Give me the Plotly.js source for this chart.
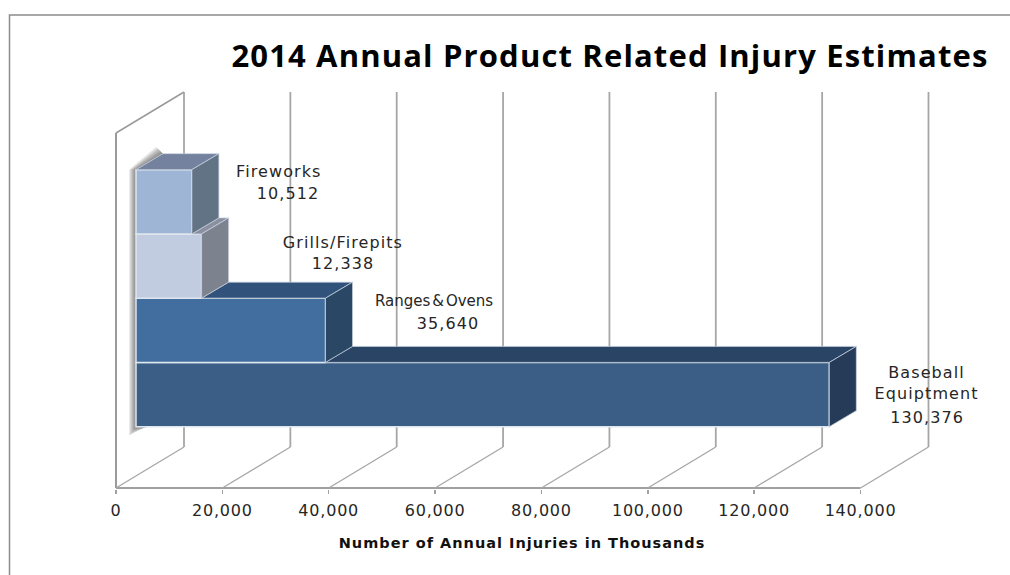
<!DOCTYPE html>
<html>
<head>
<meta charset="utf-8">
<script src="https://cdn.plot.ly/plotly-3.0.1.min.js"></script>
<style>
html,body{margin:0;padding:0;background:#fff}
#chart{width:1010px;height:575px}
#chart .gtitle{letter-spacing:1.15px}
#chart .annotation-text{letter-spacing:1.1px}
#chart .annotation[data-index="2"] .annotation-text{letter-spacing:0}
#chart .xtick text{letter-spacing:0.8px}
#chart .xtitle{letter-spacing:1px}
</style>
</head>
<body>
<div id="chart"></div>
<script>
// ---- data ----
const categories = ["Baseball Equiptment", "Ranges & Ovens", "Grills/Firepits", "Fireworks"];
const labelNames = ["Baseball<br>Equiptment", "Ranges<span style=\"font-size:6px\"> </span>&amp;<span style=\"font-size:6px\"> </span>Ovens", "Grills/Firepits", "Fireworks"];
const injuries = [130376, 35640, 12338, 10512];
const xTicks = [0, 20000, 40000, 60000, 80000, 100000, 120000, 140000];
const chartTitle = "2014 Annual Product Related Injury Estimates";
const xTitle = "Number of Annual Injuries in Thousands";

// ---- styles per bar ----
const frontColors = ["#3b5e87", "#416e9f", "#c1cce0", "#9fb5d5"];
const sideColors  = ["#253b57", "#2a4766", "#7d838e", "#627386"];
const topColors   = ["#2a4466", "#31527a", "#8a90a0", "#74829f"];

// ---- projection of the fake 3D box, in axis units ----
const pxX = 140000 / 744.5;          // x units per pixel
const pxY = 1 / 64.25;               // y units per pixel
const floorY = -93.5 * pxY, wallTop = 302.5 * pxY;
const xRange = [-2 * pxX, 814 * pxX];
const yRange = [floorY - 1 * pxY, wallTop + 2 * pxY];
const wallDx = 68 * pxX, wallDy = 41 * pxY;
const barDx = 27 * pxX, barDy = 16 * pxY;
const barBase = 20 * pxX;
const ys = categories.map((_, i) => i);
const topFront = wallTop - wallDy;
const floorBack = floorY + wallDy;

const gridColor = "#a6a6a6";
const shapes = [];
function line(x0, y0, x1, y1, color, width) {
  shapes.push({type: "line", xref: "x", yref: "y", x0, y0, x1, y1, layer: "below",
    line: {color: color || gridColor, width: width || 1.8}});
}
// walls and floor
line(0, floorY, 0, topFront, "#8f8f8f", 1.8);
line(0, topFront, wallDx, wallTop, "#9a9a9a", 1.5);
line(0, floorY, 140000, floorY, "#a0a0a0", 1.8);
xTicks.forEach(t => {
  line(t, floorY, t + wallDx, floorBack, gridColor, 1.3);
  line(t + wallDx, floorBack, t + wallDx, wallTop);
});
// soft shadow around the stack
const yStackTop = ys[ys.length - 1] + 0.5, yStackBottom = -0.5;
[7, 6, 5, 4, 3, 2, 1].forEach(o => {
  const P = (x, y) => (x * pxX) + "," + (y * pxY);
  const bx = barBase / pxX, t = yStackTop / pxY, b = yStackBottom / pxY, dx = barDx / pxX, dy = barDy / pxY;
  shapes.push({type: "path", xref: "x", yref: "y", layer: "below", line: {width: 0},
    fillcolor: "rgba(50,50,50,0.10)",
    path: "M" + P(bx - o, b - o * 1.3) + "L" + P(bx - o, t) + "L" + P(bx + dx - o, t + dy + o) +
          "L" + P(bx + dx, t + dy) + "L" + P(bx, t) + "L" + P(bx, b) + "L" + P(bx + 16 - o, b) + "Z"});
});
// frame of the picture
const marginL = 114, marginR = 80, marginT = 90, marginB = 86;
const plotW = 1010 - marginL - marginR, plotH = 575 - marginT - marginB;
const pap = (px, py) => [(px - marginL) / plotW, (575 - marginB - py) / plotH];
shapes.push({type: "rect", xref: "paper", yref: "paper", layer: "below",
  x0: pap(9.5, 0)[0], x1: pap(1030, 0)[0], y0: pap(0, 600)[1], y1: pap(0, 15)[1],
  line: {color: "#8c8c8c", width: 1.5}});

// ---- traces ----
const traces = [{
  type: "bar", orientation: "h", y: ys, x: injuries, base: barBase, width: 1,
  marker: {color: frontColors, line: {color: "#dfe6f0", width: 1.5}},
  text: categories, hoverinfo: "text+x", textposition: "none"
}];
injuries.forEach((v, i) => {
  const R = barBase + v, yT = ys[i] + 0.5, yB = ys[i] - 0.5;
  const L = i + 1 < injuries.length ? barBase + injuries[i + 1] : barBase;
  traces.push({type: "scatter", mode: "lines", hoverinfo: "skip", showlegend: false,
    x: [L, L + barDx, R + barDx, R, L], y: [yT, yT + barDy, yT + barDy, yT, yT],
    fill: "toself", fillcolor: topColors[i], line: {color: "#c9d2e0", width: 0.7}});
  traces.push({type: "scatter", mode: "lines", hoverinfo: "skip", showlegend: false,
    x: [R, R + barDx, R + barDx, R, R], y: [yT, yT + barDy, yB + barDy, yB, yT],
    fill: "toself", fillcolor: sideColors[i], line: {color: "#c9d2e0", width: 0.7}});
});

// ---- labels: pixel nudges from each bar's end ----
const nameDx = [70.5, 81, 114, 60], nameDy = [11.5, 29, 24, 30];
const valDx  = [71, 95, 114, 69], valDy  = [-23, 7, 3, 8];
const nameSize = [16, 15, 16, 16];
const labelColor = "#262626", labelFamily = "DejaVu Sans";
const annotations = [];
injuries.forEach((v, i) => {
  const ax = barBase + v + barDx;
  annotations.push({xref: "x", yref: "y", x: ax + nameDx[i] * pxX, y: ys[i] + nameDy[i] * pxY,
    text: labelNames[i], showarrow: false, font: {family: labelFamily, size: nameSize[i], color: labelColor},
    align: "center", xanchor: "center", yanchor: "middle"});
  annotations.push({xref: "x", yref: "y", x: ax + valDx[i] * pxX, y: ys[i] + valDy[i] * pxY,
    text: v.toLocaleString("en-US"), showarrow: false, font: {family: labelFamily, size: 16, color: labelColor},
    xanchor: "center", yanchor: "middle"});
});

const layout = {
  width: 1010, height: 575, autosize: false,
  margin: {l: marginL, r: marginR, t: marginT, b: marginB, pad: 0},
  paper_bgcolor: "#ffffff", plot_bgcolor: "rgba(0,0,0,0)",
  showlegend: false, barmode: "overlay",
  title: {text: "<b>" + chartTitle + "</b>", x: 610 / 1010, xref: "container", xanchor: "center",
    y: 1 - 56 / 575, yref: "container", yanchor: "middle",
    font: {family: "Open Sans", size: 31, color: "#000000"}},
  xaxis: {range: xRange, tickvals: xTicks, tickformat: ",", ticks: "outside", ticklen: 4, tickwidth: 1.5,
    tickcolor: "#a0a0a0", showgrid: false, zeroline: false, showline: false, ticklabelstandoff: 3,
    tickfont: {family: "DejaVu Sans", size: 16, color: "#262626"},
    title: {text: "<b>" + xTitle + "</b>", standoff: 18, font: {family: "DejaVu Sans", size: 14.5, color: "#111111"}}},
  yaxis: {range: yRange, showticklabels: false, ticks: "", showgrid: false, zeroline: false, showline: false},
  shapes, annotations
};
Plotly.newPlot("chart", traces, layout, {displayModeBar: false, staticPlot: true});
</script>
</body>
</html>
